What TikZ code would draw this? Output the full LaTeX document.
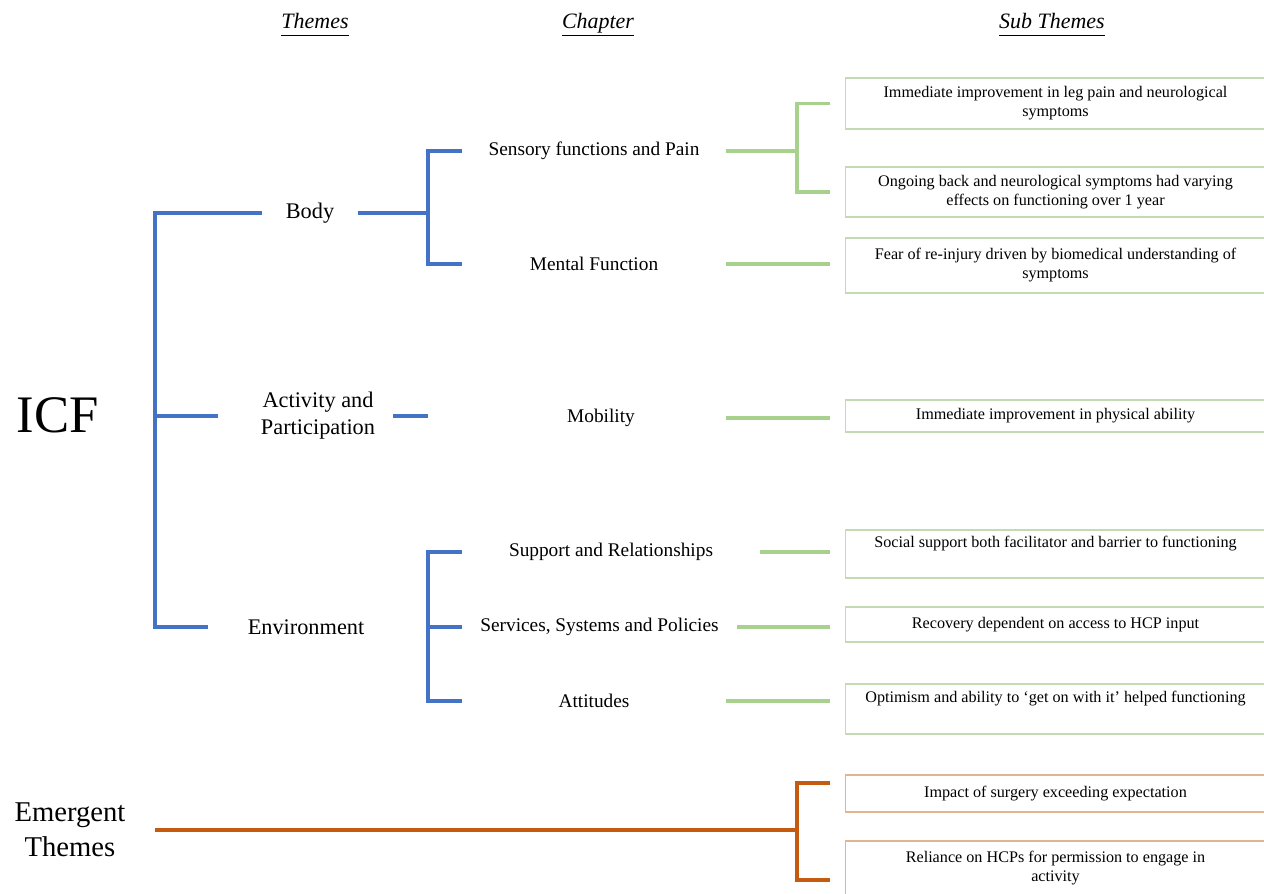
\documentclass[tikz,border=0pt]{standalone}
\usepackage{fontspec}
\setmainfont{Liberation Serif}
\definecolor{icfblue}{RGB}{68,114,196}
\definecolor{subgreen}{RGB}{169,209,142}
\definecolor{boxgreen}{RGB}{196,218,176}
\definecolor{emorange}{RGB}{197,90,17}
\definecolor{boxorange}{RGB}{226,180,144}

\begin{document}
\begin{tikzpicture}[x=0.02cm,y=-0.02cm,
    header/.style={font=\fontsize{12.5}{15}\selectfont\itshape},
    theme/.style={font=\fontsize{12.7}{15.3}\selectfont, align=center, inner sep=0pt},
    chap/.style={font=\fontsize{11}{13}\selectfont, inner sep=0pt, minimum width=5.28cm},
    subbox/.style={draw=boxgreen, line width=0.6pt, font=\fontsize{9.2}{10.8}\selectfont,
      align=center, minimum width=8.42cm, outer xsep=0.3cm},
    embox/.style={subbox, draw=boxorange},
    blueln/.style={icfblue, line width=1.8pt},
    greenln/.style={subgreen, line width=2pt},
    orangeln/.style={emorange, line width=1.8pt}]
    \useasboundingbox (0,0) rectangle (1264,893);

    \node[header] (hthemes) at (315,25) {\underline{\vphantom{p}Themes}};
    \node[header] (hchap) at (598,25) {\underline{\vphantom{p}Chapter}};
    \node[header] (hsub) at (1052,25) {\underline{\vphantom{p}Sub Themes}};

    \node[font=\fontsize{30}{36}\selectfont] (icf) at (58,415) {ICF};
    \node[theme, minimum width=1.92cm] (body) at (310,213) {Body};
    \node[theme, minimum width=4cm] (act) at (318,416) {Activity and\\Participation};
    \node[theme, minimum width=3.92cm] (env) at (306,627) {Environment};

    \node[chap] (sens) at (594,151) {Sensory functions and Pain};
    \node[chap] (ment) at (594,264) {Mental Function};
    \node[chap, minimum width=5cm] (mob) at (601,418) {Mobility};
    \node[chap, minimum width=5.96cm] (supp) at (611,552) {Support and Relationships};
    \node[chap, minimum width=5.5cm] (serv) at (599.5,627) {Services, Systems and Policies};
    \node[chap] (att) at (594,701) {Attitudes};

    \node[subbox, minimum height=1.02cm] (sub1) at (1055.5,103.5)
      {Immediate improvement in leg pain and neurological\\symptoms};
    \node[subbox, minimum height=1cm] (sub2) at (1055.5,192)
      {Ongoing back and neurological symptoms had varying\\effects on functioning over 1 year};
    \node[subbox, minimum height=1.1cm] (sub3) at (1055.5,265.5)
      {Fear of re-injury driven by biomedical understanding of\\symptoms};
    \node[subbox, minimum height=0.64cm] (sub4) at (1055.5,416)
      {Immediate improvement in physical ability};
    \node[subbox, minimum height=0.96cm] (sub5) at (1055.5,554)
      {Social support both facilitator and barrier to functioning\\ \strut};
    \node[subbox, minimum height=0.7cm] (sub6) at (1055.5,624.5)
      {Recovery dependent on access to HCP input};
    \node[subbox, minimum height=1cm] (sub7) at (1055.5,709)
      {Optimism and ability to `get on with it' helped functioning\\ \strut};

    \node[font=\fontsize{16.3}{20}\selectfont, align=center, inner sep=0pt, minimum width=3.4cm]
      (emerg) at (70,830) {Emergent\\Themes};
    \node[embox, minimum height=0.74cm] (em1) at (1055.5,793.5)
      {Impact of surgery exceeding expectation};
    \node[embox, minimum height=1.08cm] (em2) at (1055.5,868)
      {Reliance on HCPs for permission to engage in\\activity};

    \coordinate (icfspine) at (155,416);
    \coordinate (bodyfork) at (428,213);
    \coordinate (actfork) at (428,416);
    \coordinate (envfork) at (428,627);
    \coordinate (sensfork) at (797,151);
    \coordinate (emfork) at (797,830);

    \draw[blueln] (body.west) -| (icfspine) |- (env.west);
    \draw[blueln] (icfspine) -- (act.west);
    \draw[blueln] (body.east) -- (bodyfork);
    \draw[blueln] (sens.west) -| (bodyfork) |- (ment.west);
    \draw[blueln] ([xshift=-0.5cm]act.east) -- (actfork);
    \draw[blueln] (supp.west) -| (envfork) |- (att.west);
    \draw[blueln] (envfork) -- (serv.west);

    \draw[greenln] (sens.east) -- (sensfork);
    \draw[greenln] (sub1.west) -| (sensfork) |- (sub2.west);
    \draw[greenln] (ment.east) -- (ment.east -| sub3.west);
    \draw[greenln] (mob.east) -- (mob.east -| sub4.west);
    \draw[greenln] (supp.east) -- (supp.east -| sub5.west);
    \draw[greenln] (serv.east) -- (serv.east -| sub6.west);
    \draw[greenln] (att.east) -- (att.east -| sub7.west);

    \draw[orangeln] (emerg.east) -- (emfork);
    \draw[orangeln] ([yshift=0.21cm]em1.west) -| (emfork) |- ([yshift=-0.24cm]em2.west);
\end{tikzpicture}
\end{document}
